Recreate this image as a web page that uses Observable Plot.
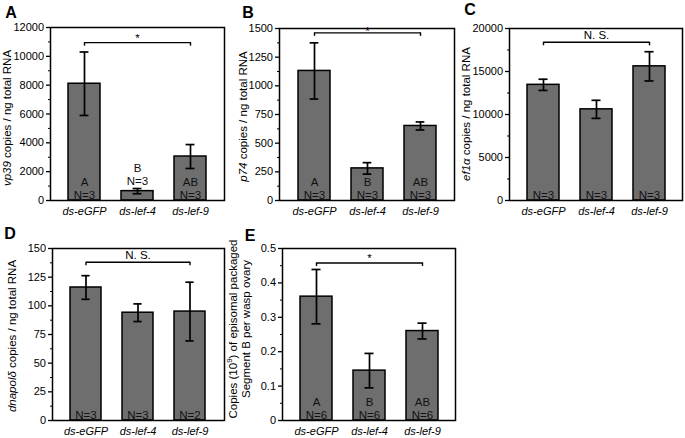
<!DOCTYPE html>
<html><head><meta charset="utf-8">
<script src="https://cdn.jsdelivr.net/npm/d3@7"></script>
<script src="https://cdn.jsdelivr.net/npm/@observablehq/plot@0.6"></script>
<style>
body{margin:0;background:#fff;}
#fig{position:relative;width:685px;height:438px;overflow:hidden;}
#fig svg{position:absolute;overflow:visible;}
</style></head><body><div id="fig"></div>
<script>
// ---------- data ----------
const categories = ["ds-eGFP", "ds-lef-4", "ds-lef-9"];

// A: vp39
const vp39Mean = [8100, 650, 3050];
const vp39Err = [2200, 180, 830];
const vp39Letters = ["A", "B", "AB"];
const vp39N = [3, 3, 3];
const vp39Ticks = [0, 2000, 4000, 6000, 8000, 10000, 12000];
const vp39Minor = [1000, 3000, 5000, 7000, 9000, 11000];
const vp39Bracket = 10950;
const vp39Sig = "*";

// B: p74
const p74Mean = [1130, 280, 650];
const p74Err = [245, 50, 35];
const p74Letters = ["A", "B", "AB"];
const p74N = [3, 3, 3];
const p74Ticks = [0, 250, 500, 750, 1000, 1250, 1500];
const p74Minor = [125, 375, 625, 875, 1125, 1375];
const p74Bracket = 1462;
const p74Sig = "*";

// C: ef1a
const ef1aMean = [13450, 10600, 15600];
const ef1aErr = [650, 1050, 1700];
const ef1aLetters = ["", "", ""];
const ef1aN = [3, 3, 3];
const ef1aTicks = [0, 5000, 10000, 15000, 20000];
const ef1aMinor = [2500, 7500, 12500, 17500];
const ef1aBracket = 18400;
const ef1aSig = "N. S.";

// D: dnapol delta
const dnapolMean = [116, 94, 95];
const dnapolErr = [10.3, 7.7, 25.6];
const dnapolLetters = ["", "", ""];
const dnapolN = [3, 3, 2];
const dnapolTicks = [0, 25, 50, 75, 100, 125, 150];
const dnapolMinor = [12.5, 37.5, 62.5, 87.5, 112.5, 137.5];
const dnapolBracket = 138;
const dnapolSig = "N. S.";

// E: segment B copies
const segBMean = [0.36, 0.145, 0.26];
const segBErr = [0.079, 0.05, 0.023];
const segBLetters = ["A", "B", "AB"];
const segBN = [6, 6, 6];
const segBTicks = [0, 0.1, 0.2, 0.3, 0.4, 0.5];
const segBMinor = [0.05, 0.15, 0.25, 0.35, 0.45];
const segBBracket = 0.458;
const segBSig = "*";

// ---------- drawing ----------
const FONT = '"Liberation Sans", Arial, Helvetica, sans-serif';
const PI = 0.4, PO = 0.325;
const fig = document.getElementById("fig");

function panel(cfg) {
  const {mean, err, letters, n, ticks, minor, bracket, sig,
         left, top, width, height, ml, mr, mt, mb, sigDy} = cfg;
  const rows = categories.map((c, i) => ({cat: c, mean: mean[i], err: err[i], letter: letters[i], n: n[i]}));
  const ymax = ticks[ticks.length - 1];
  const fw = width - ml - mr, fh = height - mt - mb;
  const bw = fw * (1 - PI) / (categories.length - PI + 2 * PO);
  const capInset = (bw - 9) / 2;
  const isShort = d => d.mean / ymax * fh < 26;
  const labelText = d => (d.letter ? d.letter + "\n" : "") + "N=" + d.n;
  const hasAxisMarks = typeof Plot.axisY === "function";
  const marks = [
    Plot.barY(rows, {x: "cat", y: "mean", fill: "#6e6e6e", stroke: "#000", strokeWidth: 1.5}),
    Plot.ruleX(rows, {x: "cat", y1: d => d.mean - d.err, y2: d => d.mean + d.err, stroke: "#000", strokeWidth: 1.7}),
    Plot.tickY(rows, {x: "cat", y: d => d.mean + d.err, inset: capInset, stroke: "#000", strokeWidth: 1.7}),
    Plot.tickY(rows, {x: "cat", y: d => d.mean - d.err, inset: capInset, stroke: "#000", strokeWidth: 1.7}),
    Plot.text(rows.filter(d => !isShort(d)), {x: "cat", y: () => 0, text: labelText,
      lineAnchor: "bottom", lineHeight: 1.12, dy: -1.5, fontSize: 11.5, fill: "#111"}),
    Plot.text(rows.filter(isShort), {x: "cat", y: d => d.mean + d.err, text: labelText,
      lineAnchor: "bottom", lineHeight: 1.12, dy: -3.5, fontSize: 11.5, fill: "#111"}),
    Plot.link([{a: categories[0], b: categories[categories.length - 1], y: bracket}],
      {x1: "a", x2: "b", y1: "y", y2: "y", stroke: "#000", strokeWidth: 1.4}),
    Plot.ruleX([categories[0], categories[categories.length - 1]],
      {x: d => d, y1: () => bracket, y2: () => bracket, insetBottom: -3.5, stroke: "#000", strokeWidth: 1.4}),
    Plot.text([sig], {x: () => categories[1], y: () => bracket, text: d => d, lineAnchor: "bottom",
      dy: sigDy, fontSize: 11.5, fill: "#000"}),
    Plot.frame({stroke: "#000", strokeWidth: 1.5})
  ];
  if (hasAxisMarks) {
    marks.push(
      Plot.axisY(ticks, {tickSize: 4, tickPadding: 2.5, tickFormat: d => String(d), fontSize: 11, label: null, stroke: "#000", strokeWidth: 1.3}),
      Plot.axisY(minor, {tickSize: 2, tickFormat: () => "", label: null, stroke: "#000", strokeWidth: 1}),
      Plot.axisX({tickSize: 0, tickPadding: 7, fontSize: 11, fontStyle: "italic", label: null})
    );
  }
  const svg = Plot.plot({
    width, height, marginLeft: ml, marginRight: mr, marginTop: mt, marginBottom: mb,
    style: {fontFamily: FONT, fontSize: "11px", color: "#000", background: "transparent"},
    x: {domain: categories, type: "band", paddingInner: PI, paddingOuter: PO, label: null,
        ...(hasAxisMarks ? {} : {tickSize: 0, tickPadding: 7})},
    y: {domain: [0, ymax], label: null,
        ...(hasAxisMarks ? {} : {ticks, tickSize: 4, tickFormat: d => String(d)})},
    marks
  });
  svg.style.left = left + "px";
  svg.style.top = top + "px";
  fig.appendChild(svg);
  const s = d3.select(svg);
  s.selectAll('[aria-label^="x-axis"] text').style("font-style", "italic");
  // panel letter
  s.append("text").attr("x", cfg.letterX).attr("y", cfg.letterY)
    .attr("font-family", FONT).attr("font-weight", "bold").attr("font-size", 16).attr("fill", "#000")
    .text(cfg.letter);
  // y-axis title(s)
  cfg.titles.forEach(t => {
    const txt = s.append("text")
      .attr("transform", `translate(${t.x},${t.y}) rotate(-90)`)
      .attr("text-anchor", "middle").attr("font-family", FONT).attr("font-size", 11.5).attr("fill", "#000");
    t.parts.forEach(p => {
      const ts = txt.append("tspan").text(p.t);
      if (p.i) ts.attr("font-style", "italic");
      if (p.sup) ts.attr("font-size", 8).attr("dy", -4.5);
      if (p.after) ts.attr("dy", 4.5);
    });
  });
  return svg;
}

const tail = [{t: " copies / ng total RNA"}];

panel({mean: vp39Mean, err: vp39Err, letters: vp39Letters, n: vp39N, ticks: vp39Ticks, minor: vp39Minor,
  bracket: vp39Bracket, sig: vp39Sig, sigDy: -1,
  left: 0, top: 0, width: 228, height: 220, ml: 50, mr: 4, mt: 27, mb: 20,
  letter: "A", letterX: 11, letterY: 18,
  titles: [{x: 10.5, y: 118, parts: [{t: "vp39", i: true}, ...tail]}]});

panel({mean: p74Mean, err: p74Err, letters: p74Letters, n: p74N, ticks: p74Ticks, minor: p74Minor,
  bracket: p74Bracket, sig: p74Sig, sigDy: 2,
  left: 228, top: 0, width: 230, height: 220, ml: 51, mr: 4, mt: 28, mb: 20,
  letter: "B", letterX: 20, letterY: 18,
  titles: [{x: 18.5, y: 116.5, parts: [{t: "p74", i: true}, ...tail]}]});

panel({mean: ef1aMean, err: ef1aErr, letters: ef1aLetters, n: ef1aN, ticks: ef1aTicks, minor: ef1aMinor,
  bracket: ef1aBracket, sig: ef1aSig, sigDy: -3,
  left: 458, top: 0, width: 227, height: 220, ml: 51, mr: 3, mt: 28, mb: 20,
  letter: "C", letterX: 12, letterY: 15,
  titles: [{x: 12, y: 114, parts: [{t: "ef1α", i: true}, ...tail]}]});

panel({mean: dnapolMean, err: dnapolErr, letters: dnapolLetters, n: dnapolN, ticks: dnapolTicks, minor: dnapolMinor,
  bracket: dnapolBracket, sig: dnapolSig, sigDy: -3,
  left: 0, top: 220, width: 228, height: 218, ml: 52, mr: 4, mt: 28, mb: 18,
  letter: "D", letterX: 10, letterY: 19,
  titles: [{x: 16, y: 116, parts: [{t: "dnapolδ", i: true}, ...tail]}]});

panel({mean: segBMean, err: segBErr, letters: segBLetters, n: segBN, ticks: segBTicks, minor: segBMinor,
  bracket: segBBracket, sig: segBSig, sigDy: -1,
  left: 228, top: 220, width: 230, height: 218, ml: 54, mr: 3, mt: 28, mb: 18,
  letter: "E", letterX: 22, letterY: 21,
  titles: [
    {x: 8.5, y: 109, parts: [{t: "Copies (10"}, {t: "9", sup: true}, {t: ") of episomal packaged", after: true}]},
    {x: 22, y: 109, parts: [{t: "Segment B per wasp ovary"}]}
  ]});
</script>
</body></html>
